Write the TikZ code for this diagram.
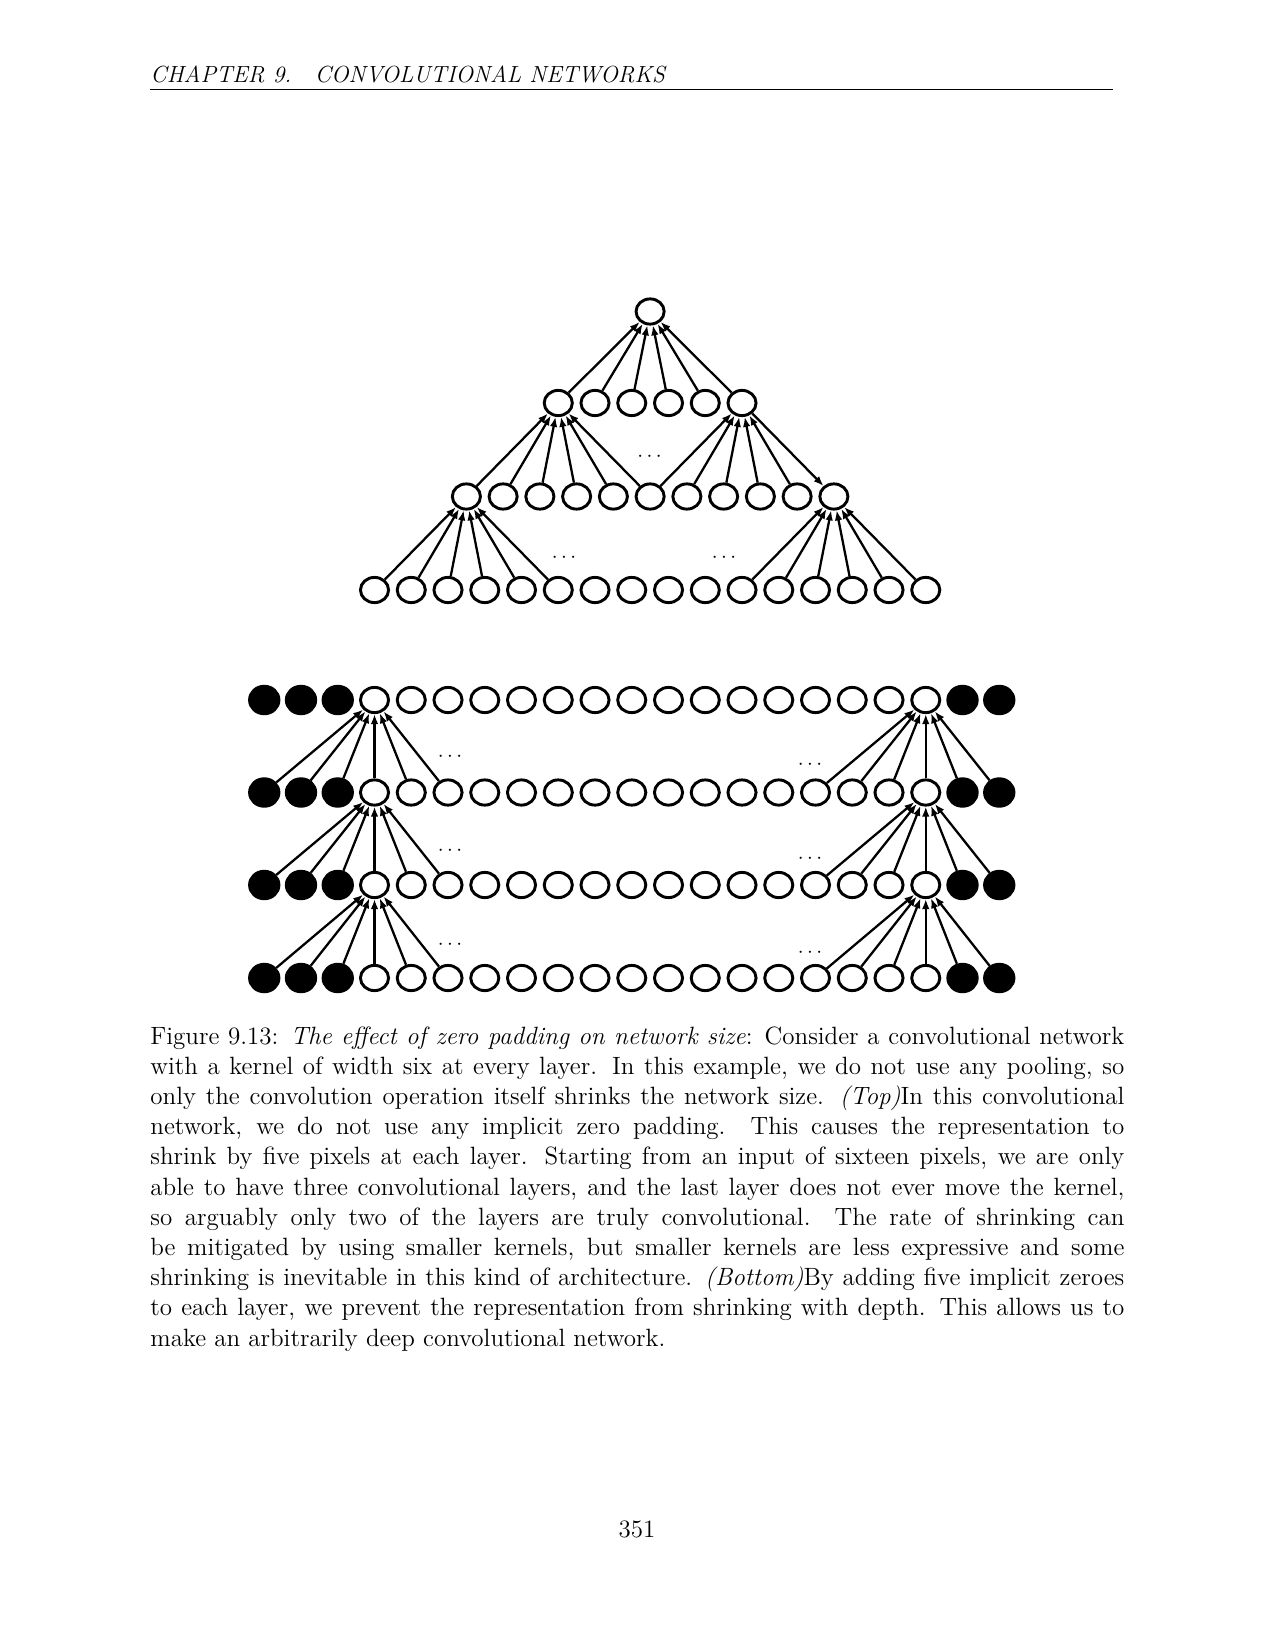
\documentclass[tikz,border=0pt]{standalone}
\usetikzlibrary{shapes.geometric,arrows.meta}
\begin{document}
\begin{tikzpicture}[x=0.48pt,y=-0.48pt,
 unit/.style={ellipse,draw,line width=1.4pt,inner sep=0pt,minimum width=13.5pt,minimum height=12.1pt},
 zero/.style={unit,fill=black,minimum width=14.1pt,minimum height=13.2pt},
 wire/.style={line width=1.1pt,-{Latex[length=4.8pt,width=3.6pt]}},
 txt/.style={inner sep=0pt,font=\fontsize{12}{14.5}\selectfont}]
 \useasboundingbox (0,0) rectangle (1275,1650);
 % running head
 \node[txt,anchor=base west,font=\fontsize{11.2}{13}\selectfont] (head) at (150,83) {\itshape CHAPTER 9.\quad CONVOLUTIONAL NETWORKS};
 \draw[line width=0.8pt] (150,89.5) -- (1113,89.5);
 % top: no implicit zero padding
 \foreach \i in {1,...,16} \node[unit] (x\i) at ({374.5+(\i-1)*36.75},590) {};
 \foreach \i in {1,...,11} \node[unit] (h\i) at ({374.5+(\i+1.5)*36.75},496.5) {};
 \foreach \i in {1,...,6} \node[unit] (g\i) at ({374.5+(\i+4)*36.75},403) {};
 \node[unit] (s) at (650.1,311.5) {};
 \foreach \i in {1,...,6} \draw[wire] (g\i) -- (s);
 \foreach \i in {1,...,6} \draw[wire] (h\i) -- (g1);
 \foreach \i in {6,...,10} \draw[wire] (h\i) -- (g6);
 \draw[wire] (g6) -- (h11);
 \foreach \i in {1,...,6} \draw[wire] (x\i) -- (h1);
 \foreach \i in {11,...,16} \draw[wire] (x\i) -- (h11);
 \node (dt1) at (649.5,457) {$\cdots$};
 \node (dt2) at (564,558) {$\cdots$};
 \node (dt3) at (724,558) {$\cdots$};
 % bottom: five implicit zeroes per layer
 \foreach \r/\y in {1/978,2/885,3/792.5,4/700}{
  \foreach \k in {1,2,3,20,21} \node[zero] (p\r-\k) at ({264.25+(\k-1)*36.75},\y) {};
  \foreach \k in {4,...,19} \node[unit] (p\r-\k) at ({264.25+(\k-1)*36.75},\y) {};
 }
 \foreach \r/\s in {1/2,2/3,3/4}{
  \foreach \k in {1,...,6} \draw[wire] (p\r-\k) -- (p\s-4);
  \foreach \k in {16,...,21} \draw[wire] (p\r-\k) -- (p\s-19);
 }
 \foreach \r/\y in {1/945,2/851,3/757} \node (dl\r) at (450,\y) {$\cdots$};
 \foreach \r/\y in {1/953,2/859,3/765} \node (dr\r) at (810,\y) {$\cdots$};
 % caption
 \node[txt,anchor=base west] (cap) at (150,1044) {\parbox[t]{467.5pt}{%
 Figure 9.13: \textit{The effect of zero padding on network size}: Consider a convolutional network\linebreak
 with a kernel of width six at every layer. In this example, we do not use any pooling, so\linebreak
 only the convolution operation itself shrinks the network size. \textit{(Top)}In this convolutional\linebreak
 network, we do not use any implicit zero padding. This causes the representation to\linebreak
 shrink by five pixels at each layer. Starting from an input of sixteen pixels, we are only\linebreak
 able to have three convolutional layers, and the last layer does not ever move the kernel,\linebreak
 so arguably only two of the layers are truly convolutional. The rate of shrinking can\linebreak
 be mitigated by using smaller kernels, but smaller kernels are less expressive and some\linebreak
 shrinking is inevitable in this kind of architecture. \textit{(Bottom)}By adding five implicit zeroes\linebreak
 to each layer, we prevent the representation from shrinking with depth. This allows us to\linebreak
 make an arbitrarily deep convolutional network.}};
 \node[txt,anchor=base] (pg) at (637,1537) {351};
\end{tikzpicture}
\end{document}
